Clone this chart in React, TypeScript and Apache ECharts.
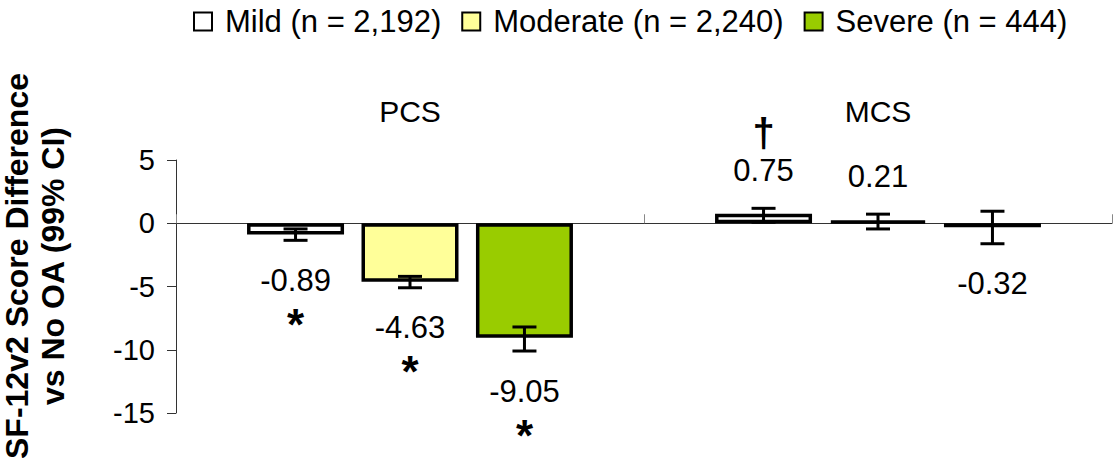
import React, { useEffect, useRef } from "react";
import * as echarts from "echarts";

const categories = ["PCS", "MCS"];
const seriesNames = ["Mild (n = 2,192)", "Moderate (n = 2,240)", "Severe (n = 444)"];
const mildValues = [-0.89, 0.75];
const moderateValues = [-4.63, 0.21];
const severeValues = [-9.05, -0.32];
const mildCiLow = [-1.35, 0.08];
const mildCiHigh = [-0.45, 1.18];
const moderateCiLow = [-5.1, -0.45];
const moderateCiHigh = [-4.2, 0.72];
const severeCiLow = [-10.1, -1.62];
const severeCiHigh = [-8.2, 0.95];
const mildMarks = ["*", "†"];
const moderateMarks = ["*", ""];
const severeMarks = ["*", ""];
const yMin = -15;
const yMax = 5;
const yInterval = 5;

const colors = ["#FFFFFF", "#FFFF99", "#99CC00"];
const FONT = "'Liberation Sans', Arial, Helvetica, sans-serif";
const BAR_W = 97;
const BAR_GAP = 0.18;

export default function App() {
  const ref = useRef<HTMLDivElement>(null);
  useEffect(() => {
    if (!ref.current) return;
    const chart = echarts.init(ref.current, null, { renderer: "svg" });
    const values = [mildValues, moderateValues, severeValues];
    const lows = [mildCiLow, moderateCiLow, severeCiLow];
    const highs = [mildCiHigh, moderateCiHigh, severeCiHigh];
    const marks = [mildMarks, moderateMarks, severeMarks];

    const barSeries = values.map((vals, i) => ({
      type: "bar",
      name: seriesNames[i],
      data: vals,
      barWidth: BAR_W,
      barGap: BAR_GAP * 100 + "%",
      itemStyle: { color: colors[i], borderColor: "#000", borderWidth: 3.5 },
      z: 2,
    }));

    const errSeries = values.map((vals, i) => ({
      type: "custom",
      name: "err" + i,
      z: 3,
      data: vals.map((v, j) => [j, lows[i][j], highs[i][j], v]),
      encode: { x: 0, y: [1, 2] },
      renderItem: (params: any, api: any) => {
        const j = api.value(0);
        const lo = api.coord([j, api.value(1)]);
        const hi = api.coord([j, api.value(2)]);
        const v = api.value(3);
        const x = lo[0] + (i - 1) * BAR_W * (1 + BAR_GAP);
        const cap = 12;
        const ls = { stroke: "#000", lineWidth: 3 };
        const mark = marks[i][params.dataIndex];
        let labelY: number;
        let markY: number;
        if (v < 0) {
          labelY = lo[1] + 40;
          markY = labelY + 44;
        } else {
          labelY = hi[1] - 37.5;
          markY = labelY - 38;
        }
        const children: any[] = [
          { type: "line", shape: { x1: x, y1: lo[1], x2: x, y2: hi[1] }, style: ls },
          { type: "line", shape: { x1: x - cap, y1: lo[1], x2: x + cap, y2: lo[1] }, style: ls },
          { type: "line", shape: { x1: x - cap, y1: hi[1], x2: x + cap, y2: hi[1] }, style: ls },
          {
            type: "text",
            x: x,
            y: labelY,
            style: {
              text: v.toFixed(2),
              fontSize: 31,
              lineHeight: 30,
              fontFamily: FONT,
              fill: "#000",
              align: "center",
              verticalAlign: "middle",
            },
          },
        ];
        if (mark) {
          const star = mark === "*";
          children.push({
            type: "text",
            x: x,
            y: markY,
            style: {
              text: mark,
              fontSize: star ? 44 : 40,
              lineHeight: star ? 26 : 34,
              fontWeight: "bold",
              fontFamily: FONT,
              fill: "#000",
              align: "center",
              verticalAlign: "middle",
            },
          });
        }
        return { type: "group", children };
      },
    }));

    chart.setOption({
      animation: false,
      backgroundColor: "#fff",
      textStyle: { fontFamily: FONT },
      legend: {
        data: seriesNames,
        left: 188,
        top: 1,
        icon: "rect",
        itemWidth: 18,
        itemHeight: 18,
        itemGap: 20,
        itemStyle: { borderColor: "#000", borderWidth: 2 },
        textStyle: { fontSize: 31, color: "#000", fontFamily: FONT, padding: [0, 0, 0, 8] },
      },
      grid: { left: 176, right: 8, top: 160, bottom: 52 },
      xAxis: [
        {
          type: "category",
          data: categories,
          axisLine: { onZero: true, lineStyle: { color: "#333", width: 1 } },
          axisTick: { show: true, inside: true, length: 9, lineStyle: { color: "#888" } },
          axisLabel: { show: false },
        },
        {
          type: "category",
          data: categories,
          position: "top",
          axisLine: { show: false },
          axisTick: { show: false },
          axisLabel: { fontSize: 30, color: "#000", margin: 34, fontFamily: FONT },
        },
      ],
      yAxis: {
        type: "value",
        min: yMin,
        max: yMax,
        interval: yInterval,
        splitLine: { show: false },
        axisLine: { show: true, lineStyle: { color: "#333" } },
        axisTick: { show: true, length: 9, lineStyle: { color: "#333" } },
        axisLabel: { fontSize: 29, color: "#000", margin: 21, fontFamily: FONT },
      },
      graphic: [
        {
          type: "text",
          x: 35,
          y: 266,
          rotation: Math.PI / 2,
          style: {
            text: "SF-12v2 Score Difference\nvs No OA (99% CI)",
            fontSize: 32,
            fontWeight: "bold",
            fontFamily: FONT,
            lineHeight: 36,
            fill: "#000",
            align: "center",
            verticalAlign: "middle",
          },
        },
      ],
      series: [...barSeries, ...errSeries],
    });
    return () => chart.dispose();
  }, []);
  return (
    <div
      ref={ref}
      style={{ position: "fixed", left: 0, top: 0, width: 1120, height: 465, background: "#fff" }}
    />
  );
}
